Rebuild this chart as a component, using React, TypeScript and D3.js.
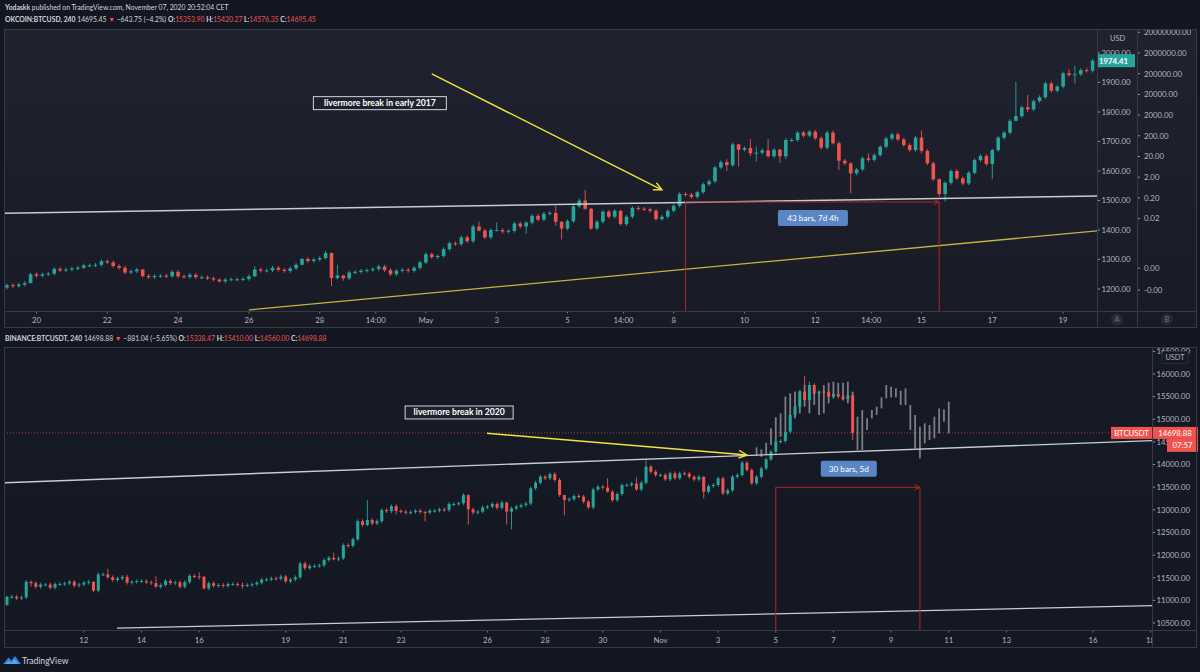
import * as d3 from 'd3';

const FONT = 'Lato, "Open Sans", sans-serif';
const UP = '#26a69a';
const DOWN = '#ef5350';
const TXT = '#b2b5be';
const FRAME = '#363a45';
const HEAD = 6.8;

// ---------- upper pane: OKCOIN:BTCUSD 240 (spring 2017) ----------
const topOpen0 = 1205;
const topCloses = [
  1213, 1210, 1215, 1220, 1250, 1245, 1250, 1252, 1268, 1263,
  1266, 1270, 1272, 1280, 1280, 1282, 1294, 1290, 1278, 1272,
  1256, 1260, 1266, 1244, 1240, 1244, 1245, 1243, 1258, 1243,
  1241, 1248, 1240, 1240, 1236, 1232, 1226, 1232, 1233, 1233,
  1234, 1243, 1266, 1262, 1263, 1272, 1265, 1261, 1270, 1282,
  1302, 1295, 1300, 1305, 1322, 1237, 1246, 1236, 1256, 1258,
  1262, 1264, 1268, 1276, 1264, 1250, 1262, 1265, 1262, 1272,
  1290, 1318, 1308, 1312, 1335, 1355, 1352, 1375, 1362, 1412,
  1398, 1375, 1400, 1400, 1395, 1397, 1422, 1412, 1425, 1448,
  1435, 1455, 1458, 1428, 1405, 1430, 1480, 1500, 1472, 1405,
  1428, 1462, 1445, 1465, 1420, 1445, 1475, 1472, 1470, 1465,
  1437, 1445, 1465, 1482, 1522, 1520, 1512, 1528, 1555, 1565,
  1612, 1630, 1620, 1690, 1672, 1678, 1660, 1662, 1670, 1650,
  1672, 1650, 1705, 1705, 1730, 1720, 1733, 1711, 1679, 1730,
  1694, 1635, 1626, 1592, 1605, 1643, 1638, 1654, 1682, 1710,
  1724, 1707, 1688, 1671, 1713, 1668, 1626, 1572, 1522, 1560,
  1600, 1575, 1558, 1594, 1637, 1651, 1624, 1671, 1713, 1730,
  1770, 1786, 1816, 1809, 1837, 1850, 1897, 1872, 1886, 1931,
  1925, 1928, 1942, 1940, 1974,
];
// visible wicks [high, low] where they stick out of the body
const topWicks: Record<number, [number, number]> = {
  4: [1255, 1220], 13: [1286, 1268], 17: [1300, 1285], 23: [1268, 1238],
  28: [1265, 1238], 36: [1236, 1222], 42: [1278, 1240], 50: [1305, 1280],
  54: [1330, 1300], 55: [1324, 1210], 56: [1282, 1232], 57: [1248, 1228],
  80: [1428, 1395], 83: [1425, 1395], 88: [1430, 1387], 93: [1482, 1414],
  94: [1430, 1368], 98: [1536, 1468], 99: [1475, 1400], 104: [1468, 1415],
  122: [1640, 1600], 124: [1692, 1615], 126: [1708, 1650], 127: [1683, 1632],
  129: [1708, 1645], 131: [1675, 1627], 132: [1712, 1640], 140: [1737, 1690],
  141: [1700, 1603], 143: [1630, 1524], 146: [1660, 1630], 155: [1737, 1660],
  158: [1575, 1513], 159: [1565, 1496], 167: [1675, 1572], 171: [1903, 1770],
  173: [1858, 1800], 180: [1945, 1920], 181: [1956, 1897],
};
const topTimeLabels = ['20', '22', '24', '26', '28', '14:00', 'May', '3', '5', '14:00', '8', '10', '12', '14:00', '15', '17', '19'];
const topTimeBars = [5, 17, 29, 41, 53, 62.5, 71, 83, 95, 104.5, 113, 125, 137, 146.5, 155, 167, 179];
const topPriceTicks = [1200, 1300, 1400, 1500, 1600, 1700, 1800, 1900, 2000];
const topLogValues = [2e7, 2e6, 2e5, 2e4, 2000, 200, 20, 2, 0.2, 0.02, 8e-5, 7e-6];
const topLogLabels = ['20000000.00', '2000000.00', '200000.00', '20000.00', '2000.00', '200.00', '20.00', '2.00', '0.20', '0.02', '0.00', '-0.00'];

// ---------- lower pane: BINANCE:BTCUSDT 240 (Oct–Nov 2020) ----------
const botOpen0 = 10900;
const botCloses = [
  11080, 11080, 11045, 11065, 11412, 11380, 11300, 11350, 11350, 11280,
  11360, 11360, 11375, 11410, 11325, 11350, 11390, 11410, 11215, 11575,
  11575, 11510, 11450, 11485, 11520, 11390, 11410, 11425, 11425, 11400,
  11380, 11300, 11340, 11430, 11380, 11400, 11300, 11405, 11540, 11530,
  11520, 11265, 11380, 11320, 11340, 11320, 11360, 11360, 11340, 11330,
  11340, 11355, 11390, 11460, 11460, 11485, 11480, 11525, 11420, 11460,
  11510, 11815, 11710, 11760, 11760, 11775, 11890, 11940, 11905, 11930,
  12220, 12205, 12350, 12750, 12665, 12775, 12700, 12750, 12995, 12970,
  13080, 12975, 12960, 12935, 12950, 12980, 12950, 12940, 12980, 12980,
  13010, 12995, 13130, 13130, 13145, 13325, 13010, 12940, 12960, 13055,
  13070, 13130, 13045, 13160, 12960, 13030, 13070, 13105, 13140, 13475,
  13600, 13732, 13695, 13790, 13660, 13327, 13216, 13235, 13305, 13290,
  13180, 13055, 13450, 13510, 13490, 13400, 13215, 13350, 13548, 13548,
  13580, 13450, 13600, 13953, 13842, 13770, 13770, 13673, 13805, 13700,
  13805, 13800, 13730, 13670, 13730, 13400, 13525, 13550, 13695, 13364,
  13430, 13732, 13770, 14041, 13880, 13585, 13732, 13916, 14115, 14284,
  14505, 14520, 14725, 15094, 15278, 15610, 15425, 15757, 15573, 15610,
  15600, 15500, 15560, 15500, 15450, 15530, 14698.88,
];
const botWicks: Record<number, [number, number]> = {
  0: [11100, 10880], 5: [11440, 11300], 18: [11420, 11180], 21: [11700, 11480],
  31: [11530, 11280], 40: [11620, 11460], 41: [11540, 11240], 49: [11400, 11260],
  68: [12053, 11880], 75: [13216, 12640], 81: [13120, 12900], 87: [12980, 12745],
  96: [13340, 12675], 104: [13180, 12675], 105: [13070, 12570], 116: [13330, 12880],
  125: [13700, 13380], 131: [13720, 13420], 133: [14130, 13560], 145: [13740, 13250],
  166: [15950, 15380], 167: [15830, 15540], 176: [15560, 14540],
};
// projected bars pattern (grey), [high, low], starting at bar 156
const ghostStart = 156;
const ghostBars: [number, number][] = [
  [14380, 14210], [14335, 14170], [14480, 14230], [14800, 14430], [15045, 14505],
  [15130, 14615], [15500, 14725], [15573, 14873], [15610, 15020], [15630, 15130],
  [15757, 15278], [15735, 15130], [15720, 15315], [15610, 15094], [15757, 15130],
  [15808, 15352], [15830, 15462], [15808, 15573], [15808, 15425], [15830, 15352],
  [15610, 15130], [15057, 14321], [15205, 14321], [15020, 14763], [15205, 15020],
  [15278, 15094], [15484, 15240], [15757, 15462], [15720, 15484], [15683, 15484],
  [15632, 15315], [15683, 15315], [15315, 14763], [15094, 14358], [14836, 14137],
  [14910, 14468], [14873, 14542], [15057, 14578], [15240, 14690], [15220, 14945],
  [15388, 14690],
];
const botTimeLabels = ['12', '14', '16', '19', '21', '23', '26', '28', '30', 'Nov', '3', '5', '7', '9', '11', '13', '16', '18'];
const botTimeBars = [16, 28, 40, 58, 70, 82, 100, 112, 124, 136, 148, 160, 172, 184, 196, 208, 226, 238];
const botPriceTicks = [10500, 11000, 11500, 12000, 12500, 13000, 13500, 14000, 14500, 15000, 15500, 16000, 16500];

// ---------- scales ----------
const topX = d3.scaleLinear().domain([0, 184]).range([7, 1092.6]);
const topY = d3.scaleLinear().domain([1200, 2000]).range([289, 53]);
const topLogY = d3.scaleLog().domain([2e6, 0.02]).range([53, 218.6]);
const botX = d3.scaleLinear().domain([0, 226]).range([7, 1092.9]);
const botY = d3.scaleLinear().domain([10500, 16000]).range([623, 374]);

const chevron = (x1: number, y1: number, x2: number, y2: number, len = 8) => {
  const a = Math.atan2(y2 - y1, x2 - x1);
  const s = Math.PI / 7;
  const p1 = [x2 - len * Math.cos(a - s), y2 - len * Math.sin(a - s)];
  const p2 = [x2 - len * Math.cos(a + s), y2 - len * Math.sin(a + s)];
  return `M${p1[0]},${p1[1]}L${x2},${y2}L${p2[0]},${p2[1]}`;
};

type CandleProps = {
  closes: number[];
  open0: number;
  wicks: Record<number, [number, number]>;
  x: d3.ScaleLinear<number, number>;
  y: d3.ScaleLinear<number, number>;
  bodyW: number;
};

const Candles = ({ closes, open0, wicks, x, y, bodyW }: CandleProps) => (
  <g>
    {closes.map((c, i) => {
      const o = i === 0 ? open0 : closes[i - 1];
      const col = c >= o ? UP : DOWN;
      const yt = y(Math.max(o, c));
      const yb = y(Math.min(o, c));
      const w = wicks[i];
      const hi = w ? y(w[0]) : yt - 1.8;
      const lo = w ? y(w[1]) : yb + 1.8;
      const cx = x(i);
      return (
        <g key={i}>
          <line x1={cx} x2={cx} y1={hi} y2={lo} stroke={col} strokeWidth={0.9} />
          <rect x={cx - bodyW / 2} y={yt} width={bodyW} height={Math.max(1, yb - yt)} fill={col} />
        </g>
      );
    })}
  </g>
);

const TrendLine = ({ x1, y1, x2, y2, color, w = 1.3 }: { x1: number; y1: number; x2: number; y2: number; color: string; w?: number }) => (
  <line x1={x1} y1={y1} x2={x2} y2={y2} stroke={color} strokeWidth={w} />
);

const Arrow = ({ x1, y1, x2, y2, color }: { x1: number; y1: number; x2: number; y2: number; color: string }) => (
  <g stroke={color} strokeWidth={1.4} fill="none">
    <line x1={x1} y1={y1} x2={x2} y2={y2} />
    <path d={chevron(x1, y1, x2, y2, 9)} />
  </g>
);

const NoteBox = ({ cx, cy, w, text }: { cx: number; cy: number; w: number; text: string }) => (
  <g>
    <rect x={cx - w / 2} y={cy - 6.5} width={w} height={13} fill="#1e222d" stroke="#d1d4dc" strokeWidth={1} />
    <text x={cx} y={cy + 3} textAnchor="middle" fill="#ffffff" fontSize={8.6} fontWeight={700} fontFamily={FONT}>{text}</text>
  </g>
);

const RangeBox = ({ cx, cy, w, text }: { cx: number; cy: number; w: number; text: string }) => (
  <g>
    <rect x={cx - w / 2} y={cy - 8} width={w} height={16} rx={2} fill="#5a86c6" />
    <text x={cx} y={cy + 3} textAnchor="middle" fill="#ffffff" fontSize={8.2} fontFamily={FONT}>{text}</text>
  </g>
);

const DateRange = ({ xa, xb, yLine, yBottom }: { xa: number; xb: number; yLine: number; yBottom: number }) => (
  <g stroke="#b32424" strokeWidth={1} fill="none">
    <line x1={xa} x2={xa} y1={yLine} y2={yBottom} />
    <line x1={xb} x2={xb} y1={yLine} y2={yBottom} />
    <line x1={xa} x2={xb} y1={yLine} y2={yLine} />
    <path d={chevron(xa, yLine, xb, yLine, 6)} />
  </g>
);

export default function App() {
  // pane geometry
  const T = { l: 4, t: 29, r: 1197, plotR: 1097, axB: 1137, axisY: 311, b: 328 };
  const B = { l: 4, t: 347, r: 1197, plotR: 1152, axisY: 630, b: 648 };

  const lastTop = topCloses[topCloses.length - 1];
  const lastBot = botCloses[botCloses.length - 1];

  // upper drawings (time index, price)
  const tWhite = [topX(-0.4), topY(1457), topX(184.8), topY(1515)];
  const tYellow = [topX(41), topY(1129), topX(184.8), topY(1397)];
  const tArrow = [topX(72), topY(1929), topX(111), topY(1536)];
  // lower drawings
  const bWhite1 = [botX(-0.4), botY(13599), botX(238.3), botY(14529)];
  const bWhite2 = [botX(22.9), botY(10389), botX(238.3), botY(10882)];
  const bArrow = [botX(99.9), botY(14690), botX(154), botY(14211)];

  return (
    <div style={{ position: 'fixed', left: 0, top: 0, width: 1200, height: 672, background: '#131722' }}>
      <svg width={1200} height={672} style={{ display: 'block' }}>
        <defs>
          <linearGradient id="topBg" x1="0" y1="0" x2="0" y2="1">
            <stop offset="0" stopColor="#20232f" />
            <stop offset="1" stopColor="#181b26" />
          </linearGradient>
          <linearGradient id="botBg" x1="0" y1="0" x2="0" y2="1">
            <stop offset="0" stopColor="#161a25" />
            <stop offset="1" stopColor="#141822" />
          </linearGradient>
          <clipPath id="topPlot"><rect x={T.l} y={T.t} width={T.plotR - T.l} height={T.axisY - T.t} /></clipPath>
          <clipPath id="topAxes"><rect x={T.plotR} y={T.t} width={T.r - T.plotR} height={T.axisY - T.t} /></clipPath>
          <clipPath id="botPlot"><rect x={B.l} y={B.t} width={B.plotR - B.l} height={B.axisY - B.t} /></clipPath>
          <clipPath id="botAxis"><rect x={B.plotR} y={B.t} width={B.r - B.plotR} height={B.axisY - B.t} /></clipPath>
          <clipPath id="botTime"><rect x={B.l} y={B.axisY} width={B.plotR - B.l} height={B.b - B.axisY} /></clipPath>
        </defs>

        <rect width={1200} height={672} fill="#131722" />

        {/* header lines */}
        <text x={5} y={9.5} fontSize={HEAD} fontFamily={FONT} fill="#d1d4dc">
          <tspan fontWeight={700}>Yodaskk</tspan> published on TradingView.com, November 07, 2020 20:52:04 CET
        </text>
        <text x={5} y={21.8} fontSize={HEAD} fontFamily={FONT} fill="#d1d4dc">
          <tspan fontWeight={700}>OKCOIN:BTCUSD, 240</tspan> 14695.45 <tspan fill={DOWN}>▼</tspan> −643.75 (−4.2%) <tspan fontWeight={700}>O:</tspan><tspan fill={DOWN}>15353.90</tspan> <tspan fontWeight={700}>H:</tspan><tspan fill={DOWN}>15420.27</tspan> <tspan fontWeight={700}>L:</tspan><tspan fill={DOWN}>14576.35</tspan> <tspan fontWeight={700}>C:</tspan><tspan fill={DOWN}>14695.45</tspan>
        </text>

        {/* ================= upper pane ================= */}
        <rect x={T.l} y={T.t} width={T.r - T.l} height={T.b - T.t} fill="url(#topBg)" />
        <g clipPath="url(#topPlot)">
          <Candles closes={topCloses} open0={topOpen0} wicks={topWicks} x={topX} y={topY} bodyW={3.6} />
          <TrendLine x1={tWhite[0]} y1={tWhite[1]} x2={tWhite[2]} y2={tWhite[3]} color="#c9ccd4" w={1.5} />
          <TrendLine x1={tYellow[0]} y1={tYellow[1]} x2={tYellow[2]} y2={tYellow[3]} color="#c2b444" w={1.3} />
          <Arrow x1={tArrow[0]} y1={tArrow[1]} x2={tArrow[2]} y2={tArrow[3]} color="#f2e33a" />
          <DateRange xa={topX(115)} xb={topX(158)} yLine={topY(1495)} yBottom={T.axisY} />
          <NoteBox cx={topX(63.2)} cy={topY(1830)} w={133} text="livermore break in early 2017" />
          <RangeBox cx={topX(136.6)} cy={topY(1441)} w={70} text="43 bars, 7d 4h" />
        </g>

        {/* upper price scales */}
        <g clipPath="url(#topAxes)" fontFamily={FONT} fontSize={7.8} fill={TXT}>
          {topPriceTicks.map((p) => (
            <g key={p}>
              <line x1={T.plotR} x2={T.plotR + 3} y1={topY(p)} y2={topY(p)} stroke={TXT} strokeWidth={0.8} />
              <text x={T.plotR + 4.5} y={topY(p) + 2.8}>{d3.format('.2f')(p)}</text>
            </g>
          ))}
          {topLogValues.map((v, i) => (
            <g key={i}>
              <line x1={T.axB} x2={T.axB + 3} y1={topLogY(v)} y2={topLogY(v)} stroke={TXT} strokeWidth={0.8} />
              <text x={T.axB + 7} y={topLogY(v) + 2.8}>{topLogLabels[i]}</text>
            </g>
          ))}
          <text x={1117.5} y={40.5} textAnchor="middle" fontSize={7.4}>USD</text>
          {/* last price tag */}
          <rect x={1092} y={topY(lastTop) - 6.5} width={43} height={13} fill={UP} />
          <text x={1113.5} y={topY(lastTop) + 3} textAnchor="middle" fill="#ffffff" fontWeight={700}>{d3.format('.2f')(1974.41)}</text>
        </g>

        {/* upper time axis */}
        <g fontFamily={FONT} fontSize={7.8} fill={TXT} textAnchor="middle">
          {topTimeLabels.map((t, i) => (
            <g key={i}>
              <line x1={topX(topTimeBars[i])} x2={topX(topTimeBars[i])} y1={T.axisY} y2={T.axisY + 2.5} stroke={TXT} strokeWidth={0.6} />
              <text x={topX(topTimeBars[i])} y={T.axisY + 12}>{t}</text>
            </g>
          ))}
        </g>
        <circle cx={1117} cy={319.5} r={6} fill="#262a36" />
        <text x={1117} y={322.3} textAnchor="middle" fontSize={7.4} fontFamily={FONT} fill="#6f737f">A</text>
        <circle cx={1167} cy={319.5} r={6} fill="#262a36" />
        <text x={1167} y={322.3} textAnchor="middle" fontSize={7.4} fontFamily={FONT} fill="#6f737f">B</text>

        {/* upper frame */}
        <g stroke={FRAME} strokeWidth={1} fill="none">
          <rect x={T.l + 0.5} y={T.t + 0.5} width={T.r - T.l - 1} height={T.b - T.t - 1} />
          <line x1={T.l} x2={T.r} y1={T.axisY + 0.5} y2={T.axisY + 0.5} />
          <line x1={T.plotR + 0.5} x2={T.plotR + 0.5} y1={T.t} y2={T.b} />
          <line x1={T.axB + 0.5} x2={T.axB + 0.5} y1={T.t} y2={T.b} />
        </g>

        {/* lower header */}
        <text x={5} y={340.5} fontSize={HEAD} fontFamily={FONT} fill="#d1d4dc">
          <tspan fontWeight={700}>BINANCE:BTCUSDT, 240</tspan> 14698.88 <tspan fill={DOWN}>▼</tspan> −881.04 (−5.65%) <tspan fontWeight={700}>O:</tspan><tspan fill={DOWN}>15338.47</tspan> <tspan fontWeight={700}>H:</tspan><tspan fill={DOWN}>15410.00</tspan> <tspan fontWeight={700}>L:</tspan><tspan fill={DOWN}>14560.00</tspan> <tspan fontWeight={700}>C:</tspan><tspan fill={DOWN}>14698.88</tspan>
        </text>

        {/* ================= lower pane ================= */}
        <rect x={B.l} y={B.t} width={B.r - B.l} height={B.b - B.t} fill="url(#botBg)" />
        <g clipPath="url(#botPlot)">
          <line x1={B.l} x2={B.plotR} y1={botY(lastBot)} y2={botY(lastBot)} stroke={DOWN} strokeWidth={0.8} strokeDasharray="1 2" opacity={0.85} />
          {ghostBars.map((g, k) => (
            <rect key={k} x={botX(ghostStart + k) - 0.9} y={botY(g[0])} width={1.8} height={botY(g[1]) - botY(g[0])} fill="#8d8f97" opacity={0.85} />
          ))}
          <Candles closes={botCloses} open0={botOpen0} wicks={botWicks} x={botX} y={botY} bodyW={3.0} />
          <TrendLine x1={bWhite1[0]} y1={bWhite1[1]} x2={bWhite1[2]} y2={bWhite1[3]} color="#c9ccd4" w={1.4} />
          <TrendLine x1={bWhite2[0]} y1={bWhite2[1]} x2={bWhite2[2]} y2={bWhite2[3]} color="#c9ccd4" w={1.3} />
          <Arrow x1={bArrow[0]} y1={bArrow[1]} x2={bArrow[2]} y2={bArrow[3]} color="#f2e33a" />
          <DateRange xa={botX(160)} xb={botX(190)} yLine={botY(13497)} yBottom={B.axisY} />
          <NoteBox cx={botX(94.1)} cy={botY(15150)} w={108} text="livermore break in 2020" />
          <RangeBox cx={botX(175.2)} cy={botY(13908)} w={56} text="30 bars, 5d" />
        </g>

        {/* lower price scale */}
        <g clipPath="url(#botAxis)" fontFamily={FONT} fontSize={7.8} fill={TXT}>
          {botPriceTicks.map((p) => (
            <g key={p}>
              <line x1={B.plotR} x2={B.plotR + 3} y1={botY(p)} y2={botY(p)} stroke={TXT} strokeWidth={0.8} />
              <text x={B.plotR + 4.5} y={botY(p) + 2.8}>{d3.format('.2f')(p)}</text>
            </g>
          ))}
          <rect x={1162} y={351.5} width={26} height={12} rx={2} fill="#161a25" stroke="#2a2e39" />
          <text x={1175} y={360.3} textAnchor="middle" fontSize={7.4}>USDT</text>
        </g>
        {/* last price tags */}
        <g fontFamily={FONT} fontSize={7.8} fill="#ffffff">
          <rect x={1111} y={botY(lastBot) - 6} width={41} height={12} fill="#f0534f" />
          <text x={1131.5} y={botY(lastBot) + 2.8} textAnchor="middle">BTCUSDT</text>
          <rect x={1152} y={botY(lastBot) - 6} width={46} height={12} fill="#f0534f" />
          <text x={1175} y={botY(lastBot) + 2.8} textAnchor="middle">{d3.format('.2f')(lastBot)}</text>
          <rect x={1167} y={botY(lastBot) + 6} width={31} height={13} fill="#f0534f" />
          <text x={1182.5} y={botY(lastBot) + 15.3} textAnchor="middle">07:57</text>
        </g>

        {/* lower time axis */}
        <g clipPath="url(#botTime)" fontFamily={FONT} fontSize={7.8} fill={TXT} textAnchor="middle">
          {botTimeLabels.map((t, i) => (
            <g key={i}>
              <line x1={botX(botTimeBars[i])} x2={botX(botTimeBars[i])} y1={B.axisY} y2={B.axisY + 2.5} stroke={TXT} strokeWidth={0.6} />
              <text x={botX(botTimeBars[i])} y={B.axisY + 12.5}>{t}</text>
            </g>
          ))}
        </g>

        {/* lower frame */}
        <g stroke={FRAME} strokeWidth={1} fill="none">
          <rect x={B.l + 0.5} y={B.t + 0.5} width={B.r - B.l - 1} height={B.b - B.t - 1} />
          <line x1={B.l} x2={B.r} y1={B.axisY + 0.5} y2={B.axisY + 0.5} />
          <line x1={B.plotR + 0.5} x2={B.plotR + 0.5} y1={B.t} y2={B.b} />
        </g>

        {/* footer logo */}
        <path d="M3,664 L8.5,657.5 L11.5,660.5 L15,656 L21,664 Z" fill="#2f7fd6" />
        <path d="M5.5,664 L8.5,660.5 L11,663 L14.5,659 L18.5,664 Z" fill="#5aa7f0" />
        <text x={22} y={663.5} fontSize={8.6} fontFamily={FONT} fill="#d1d4dc">TradingView</text>
      </svg>
    </div>
  );
}
